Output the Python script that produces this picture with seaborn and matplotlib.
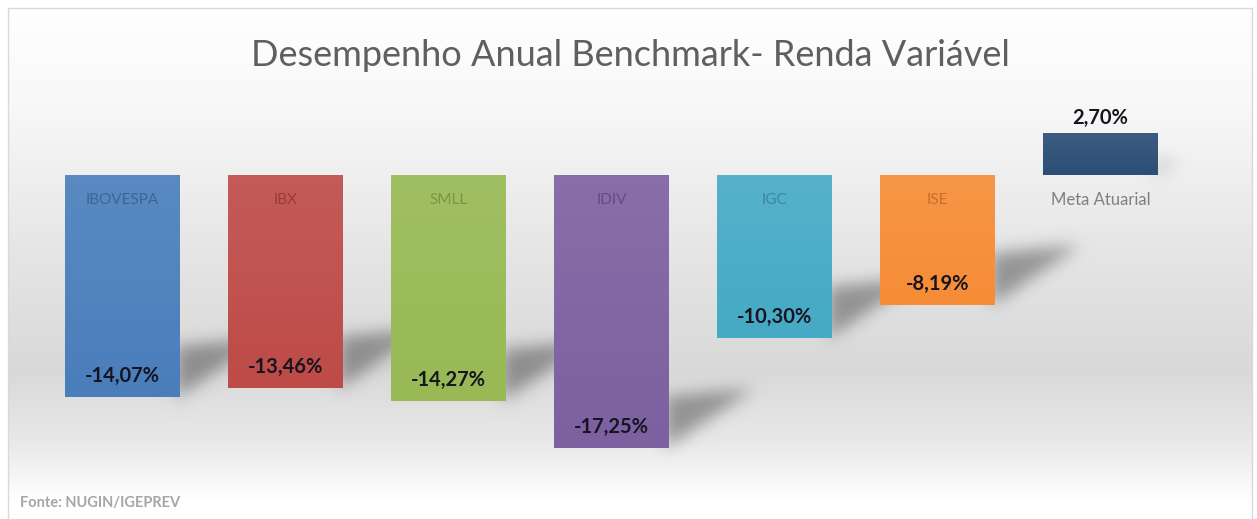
import numpy as np
import pandas as pd
import seaborn as sns
import matplotlib.pyplot as plt
from matplotlib.colors import to_rgb
from matplotlib.path import Path
from matplotlib.patches import Rectangle

# dados
categorias = ['IBOVESPA', 'IBX', 'SMLL', 'IDIV', 'IGC', 'ISE', 'Meta Atuarial']
valores = [-14.07, -13.46, -14.27, -17.25, -10.30, -8.19, 2.70]
cores = ['#4a7ebb', '#be4b48', '#98b954', '#7d60a0', '#46aac5', '#f68c36', '#2c4d75']
titulo = 'Desempenho Anual Benchmark- Renda Variável'
fonte = 'Fonte: NUGIN/IGEPREV'

W, H = 1257, 519
FAMILIA = ['Lato', 'DejaVu Sans']

sns.set_style('white')
plt.rcParams['font.family'] = FAMILIA

df = pd.DataFrame({'categoria': categorias, 'valor': valores})

fig = plt.figure(figsize=(W / 100, H / 100), dpi=100)
fig.patch.set_facecolor('white')

bg = fig.add_axes([0, 0, 1, 1], zorder=0)
bg.set_axis_off()

ax = fig.add_axes([41 / W, (H - 491) / H, 1141 / W, 442 / H], zorder=1)
ax.patch.set_alpha(0)
sns.barplot(data=df, x='categoria', y='valor', hue='categoria', palette=cores,
            legend=False, width=0.705, saturation=1, ax=ax, zorder=3,
            edgecolor='none', linewidth=0)
ax.set_xlim(-0.5, 6.5)
ax.set_ylim(-20, 8)
ax.set_axis_off()

# leve brilho no topo das barras
grad = np.linspace(0.09, 0.0, 100).reshape(-1, 1)
brilho = np.ones((100, 1, 4))
brilho[..., 3] = grad
for p in ax.patches:
    x0, y0 = p.get_x(), p.get_y()
    w, h = p.get_width(), p.get_height()
    top, bot = max(y0, y0 + h), min(y0, y0 + h)
    im = ax.imshow(brilho, extent=(x0, x0 + w, bot, top), aspect='auto',
                   origin='upper', zorder=4)
    im.set_clip_path(p)
ax.set_xlim(-0.5, 6.5)
ax.set_ylim(-20, 8)

# rotulos
for i, (cat, v) in enumerate(zip(categorias, valores)):
    rot = f'{v:.2f}%'.replace('.', ',')
    if v < 0:
        cor_txt = tuple(c * 0.8 for c in to_rgb(cores[i]))
        dy = 21
        tam = 11
    else:
        cor_txt = '#7f7f7f'
        dy = 15
        tam = 12
    ax.annotate(rot, (i, v), xytext=(0, dy), textcoords='offset pixels',
                ha='center', va='center', fontsize=14.5, fontweight='bold',
                color='#15151f', zorder=6)
    ax.annotate(cat, (i, 0), xytext=(0, -25), textcoords='offset pixels',
                ha='center', va='center', fontsize=tam, color=cor_txt, zorder=6)

fig.text(630 / W, 1 - 55 / H, titulo, ha='center', va='center',
         fontsize=26, color='#5f5f5f', fontweight='normal')
fig.text(20 / W, 1 - 503 / H, fonte, ha='left', va='center',
         fontsize=10.5, color='#a6a6a6', fontweight='bold')

# fundo em degrade com sombras das barras
fig.canvas.draw()
yy = np.arange(H)
paradas = [0, 100, 250, 370, 440, 500, H]
tons = [1.0, 0.975, 0.9, 0.85, 0.91, 1.0, 1.0]
perfil = np.interp(yy, paradas, tons)
img = np.repeat(perfil[:, None], W, axis=1)

sombra = np.zeros((H, W))
gx, gy = np.meshgrid(np.arange(W), np.arange(H))
pts = np.column_stack([gx.ravel(), gy.ravel()])
for p, v in zip(ax.patches, valores):
    bb = p.get_window_extent()
    r = bb.x1
    b = H - bb.y0
    if v < 0:
        tri = Path([(r - 4, b - 52), (r - 4, b), (r + 85, b - 60)])
        forca = 1.0
    else:
        tri = Path([(r - 4, b - 16), (r - 4, b), (r + 22, b - 14)])
        forca = 0.5
    m = tri.contains_points(pts).reshape(H, W) * forca
    sombra = np.maximum(sombra, m)

k = np.exp(-0.5 * (np.arange(-24, 25) / 8.0) ** 2)
k /= k.sum()
sombra = np.apply_along_axis(lambda m: np.convolve(m, k, mode='same'), 0, sombra)
sombra = np.apply_along_axis(lambda m: np.convolve(m, k, mode='same'), 1, sombra)
img = img * (1 - 0.35 * sombra)
img[:, :8] = 1.0
img[:8, :] = 1.0
img[:, W - 5:] = 1.0

bg.imshow(np.dstack([img, img, img]), extent=(0, 1, 0, 1), aspect='auto',
          origin='upper', interpolation='bilinear')
bg.set_xlim(0, 1)
bg.set_ylim(0, 1)
bg.add_patch(Rectangle((8 / W, -0.01), (W - 13) / W, 1 - 8 / H + 0.01,
                       fill=False, edgecolor='#d9d9d9', linewidth=1))

fig.savefig('out.png', dpi=100)
